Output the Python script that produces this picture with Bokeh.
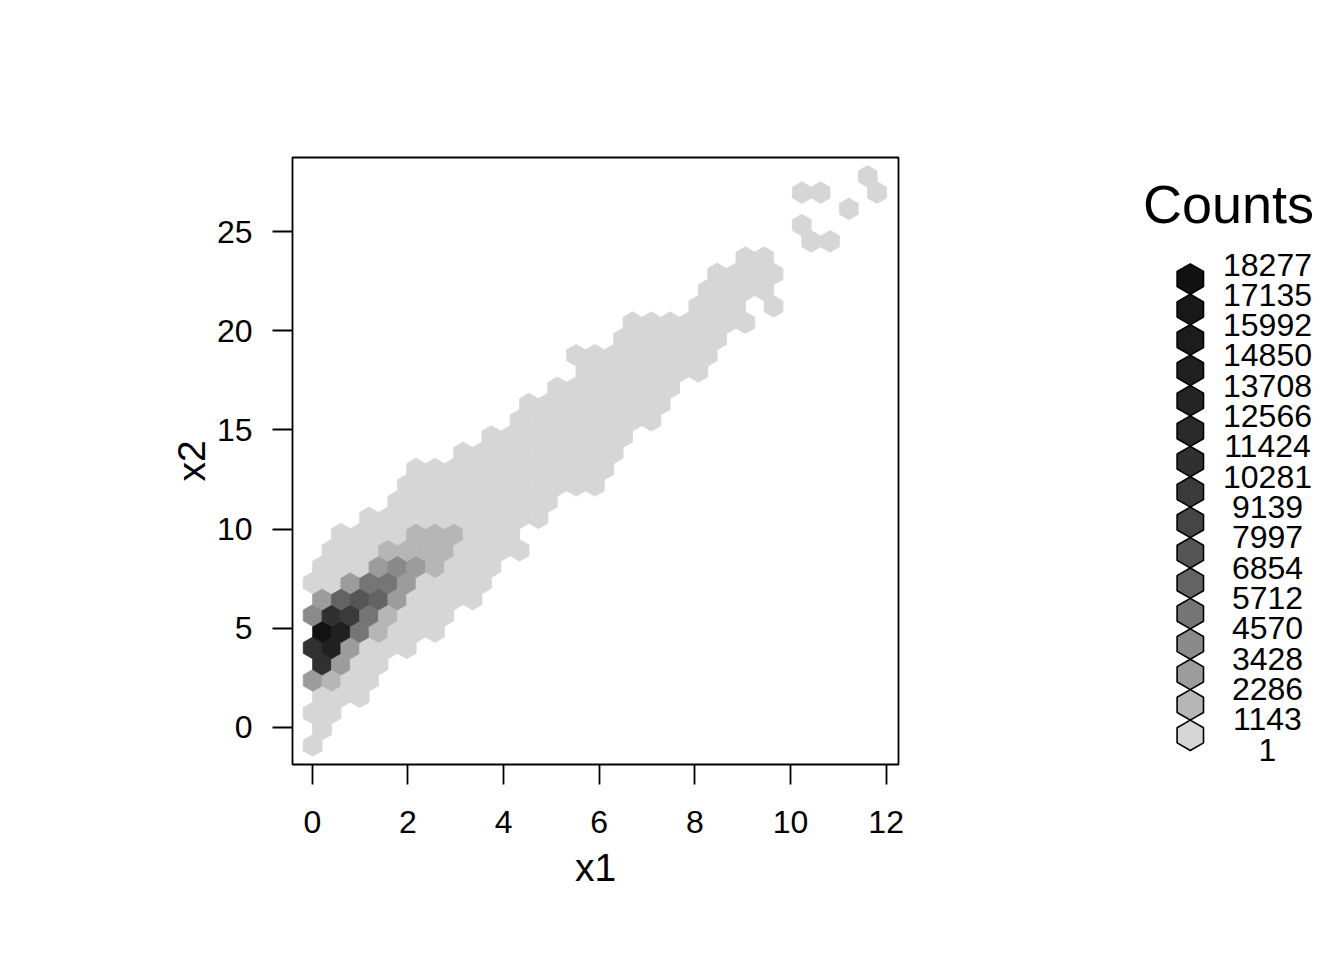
from bokeh.plotting import figure
from bokeh.layouts import row
from bokeh.models import Range1d, FixedTicker, ColumnDataSource
from bokeh.core.properties import value
from bokeh.embed import file_html
from bokeh.resources import INLINE

FONT = "Liberation Sans"

# Hexagon bin grid, in data units
bin_origin_x = 0.008
bin_origin_y = -0.907
bin_step_x = 0.3934
bin_step_y = 0.8196

# Occupied bins: for each grid row, first and last occupied column
span_rows  = [0, 1, 2, 3, 4, 5, 6, 7, 8, 9, 10, 11, 12, 13, 14, 15, 16, 17, 18, 19, 20, 21, 22, 23, 24, 25, 26, 27, 27, 28, 29, 30, 31, 32, 33, 34, 35, 34]
span_first = [0, 0, 0, 0, 0, 0, 0, 0, 0, 0, 0, 0, 1, 1, 3, 4, 5, 5, 8, 9, 11, 11, 13, 14, 14, 16, 17, 20, 24, 21, 21, 23, 26, 26, 28, 26, 29, 30]
span_last  = [0, 0, 1, 2, 3, 3, 5, 6, 7, 8, 9, 9, 11, 10, 12, 12, 15, 15, 16, 16, 18, 18, 19, 20, 21, 21, 23, 22, 24, 24, 24, 24, 27, 26, 28, 27, 29, 30]
low_count = 300

# Bins with counts above the lowest class (estimated from the grey level)
dense_rows   = [4, 4, 5, 5, 6, 6, 6, 7, 7, 7, 7, 8, 8, 8, 8, 8, 9, 9, 9, 9, 9, 10, 10, 10, 10, 11, 11, 11, 11, 12, 12, 12, 12, 13, 13, 13]
dense_cols   = [0, 1, 0, 1, 0, 1, 2, 0, 1, 2, 3, 0, 1, 2, 3, 4, 0, 1, 2, 3, 4, 2, 3, 4, 5, 3, 4, 5, 6, 4, 5, 6, 7, 5, 6, 7]
dense_counts = [2900, 1700, 10800, 2900, 10800, 14000, 2900, 18277, 14000, 5100, 1700,
                4000, 10800, 9700, 5100, 1700, 2900, 6300, 7500, 6300, 2900,
                2900, 5100, 5100, 2900, 2900, 4000, 2900, 1700, 1700, 1700, 1700, 1700, 1700, 1700, 1700]

# Legend
legend_title = "Counts"
legend_labels = ["18277", "17135", "15992", "14850", "13708", "12566", "11424", "10281", "9139",
                 "7997", "6854", "5712", "4570", "3428", "2286", "1143", "1"]
class_greys = [0x12, 0x18, 0x1c, 0x20, 0x24, 0x2a, 0x30, 0x3a, 0x45, 0x55, 0x63, 0x75, 0x8a, 0x9c, 0xb6, 0xd6]
x_ticks = [0, 2, 4, 6, 8, 10, 12]
y_ticks = [0, 5, 10, 15, 20, 25]


def hex_colour(g):
    return "#%02x%02x%02x" % (g, g, g)


def grey_of(count):
    # labels run from the top class down; the class is the first lower bound reached
    for k in range(len(class_greys)):
        if count >= int(legend_labels[k + 1]):
            return hex_colour(class_greys[k])
    return hex_colour(class_greys[-1])


cells = {}
for r, a, b in zip(span_rows, span_first, span_last):
    for c in range(a, b + 1):
        cells[(r, c)] = low_count
for r, c, n in zip(dense_rows, dense_cols, dense_counts):
    cells[(r, c)] = n

# Pointy-top hexagons in data units
rx = bin_step_x / 2
ry = bin_step_y * 2 / 3
xs, ys, cols = [], [], []
for (r, c), n in cells.items():
    cx = bin_origin_x + bin_step_x * (c + (0.5 if r % 2 else 0))
    cy = bin_origin_y + bin_step_y * r
    xs.append([cx, cx + rx, cx + rx, cx, cx - rx, cx - rx])
    ys.append([cy + ry, cy + ry / 2, cy - ry / 2, cy - ry, cy - ry / 2, cy + ry / 2])
    cols.append(grey_of(n))
src = ColumnDataSource(dict(xs=xs, ys=ys, c=cols))

p = figure(width=1000, height=950, output_backend="svg", toolbar_location=None,
           x_range=Range1d(-0.414, 12.258), y_range=Range1d(-1.865, 28.73),
           min_border_left=292, min_border_right=102, min_border_top=157, min_border_bottom=186,
           x_axis_label="x1", y_axis_label="x2")
p.patches("xs", "ys", source=src, fill_color="c", line_color="c", line_width=0.8)
p.grid.visible = False
p.outline_line_color = "black"
p.outline_line_width = 1.8
p.xaxis.ticker = FixedTicker(ticks=x_ticks)
p.yaxis.ticker = FixedTicker(ticks=y_ticks)
for ax in (p.xaxis[0], p.yaxis[0]):
    ax.axis_line_color = None
    ax.major_tick_line_color = "black"
    ax.major_tick_line_width = 1.8
    ax.major_tick_out = 20
    ax.major_tick_in = 0
    ax.minor_tick_line_color = None
    ax.major_label_text_font = FONT
    ax.major_label_text_font_size = "32px"
    ax.major_label_text_color = "black"
    ax.axis_label_text_font = FONT
    ax.axis_label_text_font_style = "normal"
    ax.axis_label_text_font_size = "39px"
    ax.axis_label_text_color = "black"
p.xaxis[0].major_label_standoff = 26
p.yaxis[0].major_label_standoff = 20
p.yaxis[0].major_label_orientation = "horizontal"
p.xaxis[0].axis_label_standoff = 10
p.yaxis[0].axis_label_standoff = 1

# Legend panel: its frame lines up with the main frame; coordinates are page pixels
leg = figure(width=340, height=950, output_backend="svg", toolbar_location=None,
             x_range=Range1d(1000, 1340), y_range=Range1d(763.7, 157),
             min_border_left=0, min_border_right=0, min_border_top=157, min_border_bottom=186)
leg.axis.visible = False
leg.grid.visible = False
leg.outline_line_color = None

hex_x = 1189.8
hex_top = 278.5
hex_step = 30.4
hex_rx = 13.2
hex_ry = 15.2
hx, hy, hc = [], [], []
for i, g in enumerate(class_greys):
    cy = hex_top + i * hex_step
    hx.append([hex_x, hex_x + hex_rx, hex_x + hex_rx, hex_x, hex_x - hex_rx, hex_x - hex_rx])
    hy.append([cy - hex_ry, cy - hex_ry / 2, cy + hex_ry / 2, cy + hex_ry, cy + hex_ry / 2, cy - hex_ry / 2])
    hc.append(hex_colour(g))
leg.patches(hx, hy, fill_color=hc, line_color="black", line_width=1.6)
leg.text(x=[1267] * len(legend_labels), y=[264 + i * 30.3 for i in range(len(legend_labels))],
         text=legend_labels, text_align="center", text_baseline="middle",
         text_font=value(FONT), text_font_size="32px", text_color="black")
leg.text(x=[1228], y=[203], text=[legend_title], text_align="center", text_baseline="middle",
         text_font=value(FONT), text_font_size="54px", text_color="black")

layout = row(p, leg, spacing=0)
open("out.html", "w").write(file_html(layout, INLINE))
